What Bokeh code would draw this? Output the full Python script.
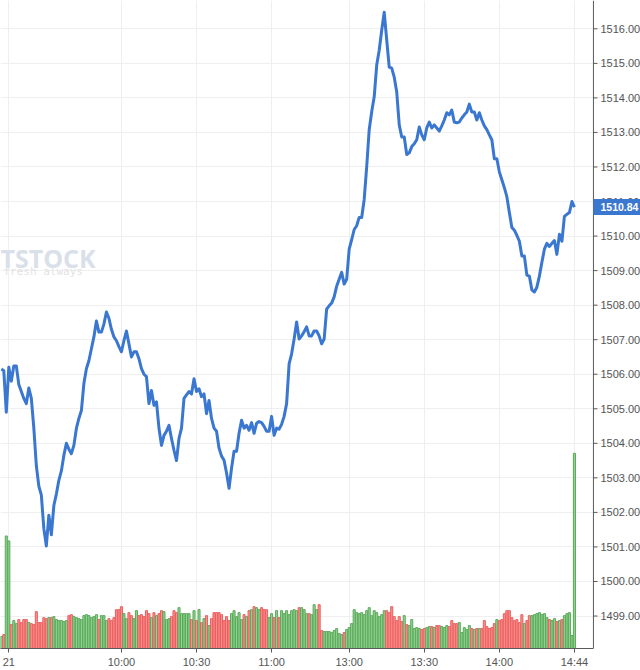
from bokeh.plotting import figure
from bokeh.models import Range1d, FixedTicker, Label, ColumnDataSource, Span
from bokeh.core.properties import value
from bokeh.embed import file_html
from bokeh.resources import INLINE

# ---- data -------------------------------------------------------------
minute_idx = list(range(-3, 227))

close = [
    1506.15, 1506.10, 1504.90, 1506.20, 1505.80, 1506.24, 1506.24, 1505.70, 1505.50, 1505.30, 1505.15, 1505.60, 1505.30,
    1504.44, 1503.35, 1502.76, 1502.50, 1501.53, 1501.03, 1501.92, 1501.35, 1502.20, 1502.53,
    1502.93, 1503.20, 1503.65, 1504.00, 1503.83, 1503.70, 1503.94, 1504.43, 1504.72, 1504.95,
    1505.73, 1506.16, 1506.39, 1506.74, 1507.08, 1507.54, 1507.22, 1507.22, 1507.45, 1507.80,
    1507.62, 1507.30, 1507.08, 1506.97, 1506.80, 1506.65, 1506.97, 1507.25, 1506.88, 1506.50,
    1506.65, 1506.65, 1506.45, 1506.16, 1506.00, 1505.93, 1505.15, 1505.53, 1505.10, 1505.20,
    1504.44, 1503.94, 1504.23, 1504.35, 1504.52, 1504.14, 1503.80, 1503.50, 1504.14, 1504.44,
    1505.30, 1505.40, 1505.50, 1505.43, 1505.87, 1505.50, 1505.58, 1505.35, 1505.43, 1504.86,
    1505.24, 1504.72, 1504.44, 1504.35, 1503.86, 1503.63, 1503.51, 1503.14, 1502.70, 1503.28,
    1503.77, 1503.77, 1504.29, 1504.67, 1504.44, 1504.52, 1504.38, 1504.60, 1504.29, 1504.58,
    1504.63, 1504.60, 1504.49, 1504.35, 1504.35, 1504.78, 1504.23, 1504.44, 1504.41, 1504.55,
    1504.78, 1505.15, 1506.30, 1506.59, 1507.02, 1507.51, 1507.02, 1507.11, 1507.23, 1507.37,
    1507.11, 1507.11, 1507.25, 1507.25, 1507.11, 1506.88, 1507.02, 1507.89, 1507.98, 1508.06,
    1508.24, 1508.55, 1508.75, 1508.95, 1508.61, 1508.75, 1509.62, 1509.90, 1510.19, 1510.30,
    1510.54, 1510.54, 1511.06, 1512.01, 1513.08, 1513.60, 1514.03, 1514.95, 1515.38, 1515.96,
    1516.48, 1515.67, 1514.89, 1514.86, 1514.60, 1514.17, 1513.22, 1512.87, 1512.87, 1512.36,
    1512.41, 1512.59, 1512.67, 1512.79, 1513.16, 1512.93, 1512.79, 1513.13, 1513.30, 1513.13,
    1513.22, 1513.13, 1513.04, 1513.19, 1513.36, 1513.57, 1513.51, 1513.65, 1513.30, 1513.28,
    1513.30, 1513.42, 1513.51, 1513.59, 1513.82, 1513.59, 1513.59, 1513.36, 1513.57, 1513.36,
    1513.19, 1513.08, 1512.93, 1512.79, 1512.24, 1512.24, 1511.86, 1511.63, 1511.40, 1511.14,
    1510.68, 1510.25, 1510.17, 1510.02, 1509.85, 1509.42, 1509.42, 1508.87, 1508.84, 1508.44,
    1508.38, 1508.52, 1508.84, 1509.24, 1509.62, 1509.79, 1509.70, 1509.79, 1509.87, 1509.47,
    1510.05, 1509.85, 1510.57, 1510.63, 1510.68, 1511.00, 1510.84,
]

volume = [
    12, 14, 113, 108, 24, 28, 25, 29, 26, 29, 29, 26, 25, 24, 37, 26, 26, 31, 30, 31,
    31, 32, 29, 28, 28, 27, 28, 33, 34, 32, 31, 30, 29, 33, 34, 33, 31, 32, 34, 29,
    33, 33, 28, 30, 28, 31, 39, 39, 42, 35, 30, 36, 33, 30, 38, 33, 34, 32, 38, 35,
    31, 36, 33, 35, 38, 37, 29, 30, 32, 38, 36, 41, 35, 35, 35, 35, 29, 38, 28, 39,
    26, 30, 33, 23, 30, 36, 36, 36, 34, 28, 32, 28, 35, 38, 32, 36, 29, 34, 32, 38,
    39, 42, 41, 39, 41, 39, 39, 31, 35, 31, 38, 31, 38, 35, 38, 34, 38, 39, 38, 41,
    41, 39, 35, 35, 34, 44, 39, 44, 18, 17, 17, 17, 16, 18, 20, 15, 14, 16, 19, 21,
    25, 39, 36, 35, 36, 34, 38, 41, 33, 38, 36, 32, 34, 38, 38, 36, 42, 32, 28, 32,
    27, 33, 24, 23, 29, 20, 21, 20, 19, 20, 21, 22, 22, 21, 23, 23, 22, 21, 23, 22,
    28, 25, 25, 26, 16, 21, 19, 23, 20, 19, 20, 20, 20, 28, 22, 20, 21, 25, 29, 28,
    29, 35, 38, 38, 31, 28, 29, 26, 34, 25, 28, 33, 33, 34, 35, 36, 34, 35, 31, 29,
    28, 30, 27, 28, 29, 33, 35, 36, 13, 196,
]
# bars whose colour (up/down within the minute) differs from the close-to-close move
bar_up_override = {-1: True, 226: True, 177: False, 209: True, 210: True}

tick_pos = [0, 45, 75, 105, 136, 166, 196, 226]
tick_labels = ["21", "10:00", "10:30", "11:00", "13:00", "13:30", "14:00", "14:44"]
price_ticks = list(range(1499, 1517))
price_labels = [f"{t:.2f}" for t in price_ticks]
last_price = 1510.84

# ---- colours ----------------------------------------------------------
UP_FILL, UP_LINE = "#93d493", "#5aa85a"
DN_FILL, DN_LINE = "#ff8e8e", "#e8605f"
fills, lines = [], []
for k, c in enumerate(close):
    up = k == 0 or c >= close[k - 1]
    up = bar_up_override.get(minute_idx[k], up)
    fills.append(UP_FILL if up else DN_FILL)
    lines.append(UP_LINE if up else DN_LINE)

src = ColumnDataSource(dict(x=minute_idx, close=close, vol=volume, fill=fills, line=lines))

X0 = -3.32          # left edge of the chart
XA = 233.6          # price scale position (right edge of plotting area)
X1 = 252.4          # right edge of the canvas
Y0, Y1 = 1498.06, 1516.82

p = figure(width=640, height=670, output_backend="svg", toolbar_location=None,
           x_range=Range1d(X0, X1), y_range=Range1d(Y0, Y1),
           y_axis_location=None,
           min_border_left=0, min_border_top=0, min_border_right=0, min_border_bottom=0)
p.extra_y_ranges = {"vol": Range1d(0, max(volume) * 3.32)}
p.outline_line_color = None
p.background_fill_color = "white"
p.border_fill_color = "white"

AX = "#5a5a5a"
TXT = "#555555"
ax = p.xaxis[0]
ax.bounds = (X0, XA)
ax.axis_line_color = AX
ax.major_tick_line_color = AX
ax.major_tick_in = 0
ax.major_tick_out = 4
ax.minor_tick_line_color = None
ax.major_label_text_font = "Liberation Sans"
ax.major_label_text_font_size = "11px"
ax.major_label_text_color = TXT
ax.major_label_standoff = 3
ax.ticker = FixedTicker(ticks=tick_pos)
ax.major_label_overrides = {t: l for t, l in zip(tick_pos, tick_labels)}

p.xgrid.ticker = FixedTicker(ticks=tick_pos)
p.ygrid.ticker = FixedTicker(ticks=price_ticks)
p.ygrid.bounds = (X0, XA)
p.xgrid.grid_line_color = "#efefef"
p.ygrid.grid_line_color = "#efefef"

# watermark
p.text(x=[X0], y=[1509.36], text=["TSTOCK"], text_font=value("Open Sans"),
       text_font_size="25px", text_font_style="bold", text_color="#d9e0e9",
       text_baseline="middle", text_align="left")
p.text(x=[X0], y=[1508.96], text=["fresh always"], text_font=value("DejaVu Sans Mono"),
       text_font_size="11px", text_color="#e3e3e3", text_baseline="middle", text_align="left",
       x_offset=3)

# volume bars
p.vbar(x="x", top="vol", bottom=0, width=0.82, fill_color="fill", line_color="line",
       line_width=1, y_range_name="vol", source=src)

# price line
p.line(x="x", y="close", line_color="#3a77d1", line_width=3, line_join="round", source=src)

# price scale on the right edge of the plotting area
p.add_layout(Span(location=XA, dimension="height", line_color=AX, line_width=1))
p.ray(x=[XA] * len(price_ticks), y=price_ticks, length=4, length_units="screen",
      angle=0, line_color=AX, line_width=1)
p.text(x=[XA] * len(price_ticks), y=price_ticks, text=price_labels, x_offset=7,
       text_font=value("Liberation Sans"), text_font_size="11px", text_color=TXT,
       text_baseline="middle", text_align="left")

# last price tag over the scale
tag = Label(x=XA, y=last_price, text=f"{last_price:.2f}", text_color="white",
            text_font="Liberation Sans", text_font_size="10.5px", text_font_style="bold",
            text_baseline="middle", text_align="left", x_offset=0,
            background_fill_color="#3a77d1",
            padding=dict(left=7, right=2, top=4, bottom=4))
p.add_layout(tag)

open("out.html", "w").write(file_html(p, INLINE))
